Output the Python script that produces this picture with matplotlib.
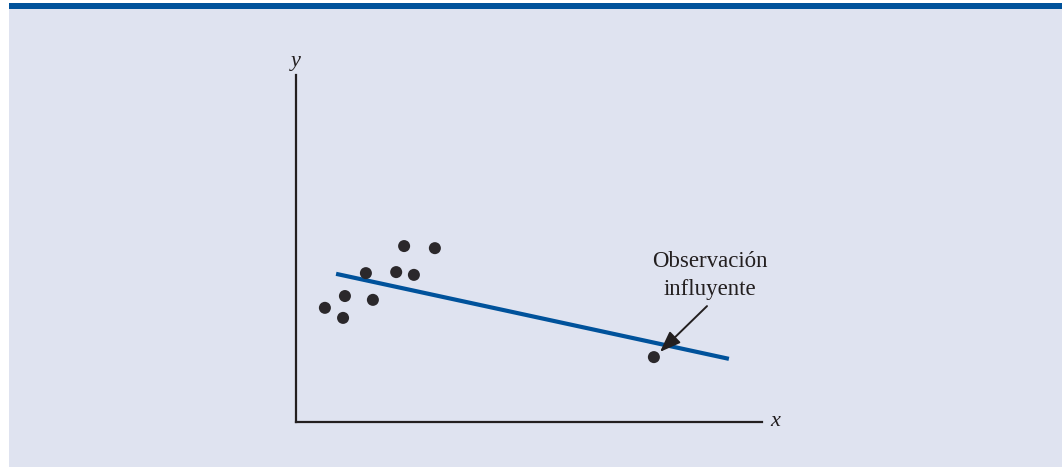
import numpy as np
import matplotlib.pyplot as plt
from matplotlib.patches import Rectangle

# scatter points (arbitrary units, axis origin at 0,0)
pts_x = [0.62, 1.05, 1.01, 1.65, 1.50, 2.15, 2.53, 2.32, 2.98, 7.68]
pts_y = [3.29, 3.63, 3.00, 3.52, 4.29, 4.32, 4.24, 5.07, 5.01, 1.87]

# fitted line end points
line_x = [0.86, 9.29]
line_y = [4.27, 1.82]

# annotation
label_text = "Observación\ninfluyente"
label_pos = (8.88, 3.53)
arrow_tail = (8.82, 3.34)
arrow_head = (7.81, 2.02)

bg = '#dfe3f0'
blue = '#00529b'
dark = '#2b282b'

fig = plt.figure(figsize=(10.62, 4.67), dpi=100)
fig.patch.set_facecolor('white')
fig.patches.append(Rectangle((9/1062, 0), 1 - 9/1062, 464/467, transform=fig.transFigure,
                             facecolor=bg, edgecolor='none', zorder=-2))
fig.patches.append(Rectangle((9/1062, 458/467), 1 - 9/1062, 6/467, transform=fig.transFigure,
                             facecolor=blue, edgecolor='none', zorder=-1))

ax = fig.add_axes([296/1062, 45/467, 466/1062, 347/467])
ax.set_facecolor('none')
ax.set_xlim(0, 10)
ax.set_ylim(0, 10)
for s in ['top', 'right']:
    ax.spines[s].set_visible(False)
for s in ['left', 'bottom']:
    ax.spines[s].set_color('#231f20')
    ax.spines[s].set_linewidth(1.6)
ax.set_xticks([])
ax.set_yticks([])

ax.plot(line_x, line_y, color=blue, lw=3, solid_capstyle='butt', zorder=2)
ax.scatter(pts_x, pts_y, s=75, color=dark, edgecolors='none', zorder=3)

serif = ['Liberation Serif', 'DejaVu Serif']
ax.text(label_pos[0], label_pos[1], label_text, ha='center', va='bottom',
        fontsize=16.5, family=serif, color='#231f20', linespacing=1.4)
ax.annotate('', xy=arrow_head, xytext=arrow_tail,
            arrowprops=dict(arrowstyle='-|>,head_length=0.8,head_width=0.3', color='#231f20',
                            lw=1.4, mutation_scale=16, shrinkA=0, shrinkB=0))

ax.text(0, 10.4, 'y', ha='center', va='center', fontsize=16, style='italic',
        family=serif, color='#231f20', clip_on=False)
ax.text(10.28, 0, 'x', ha='center', va='center', fontsize=16, style='italic',
        family=serif, color='#231f20', clip_on=False)

fig.savefig('out.png', dpi=100, facecolor=fig.get_facecolor())
